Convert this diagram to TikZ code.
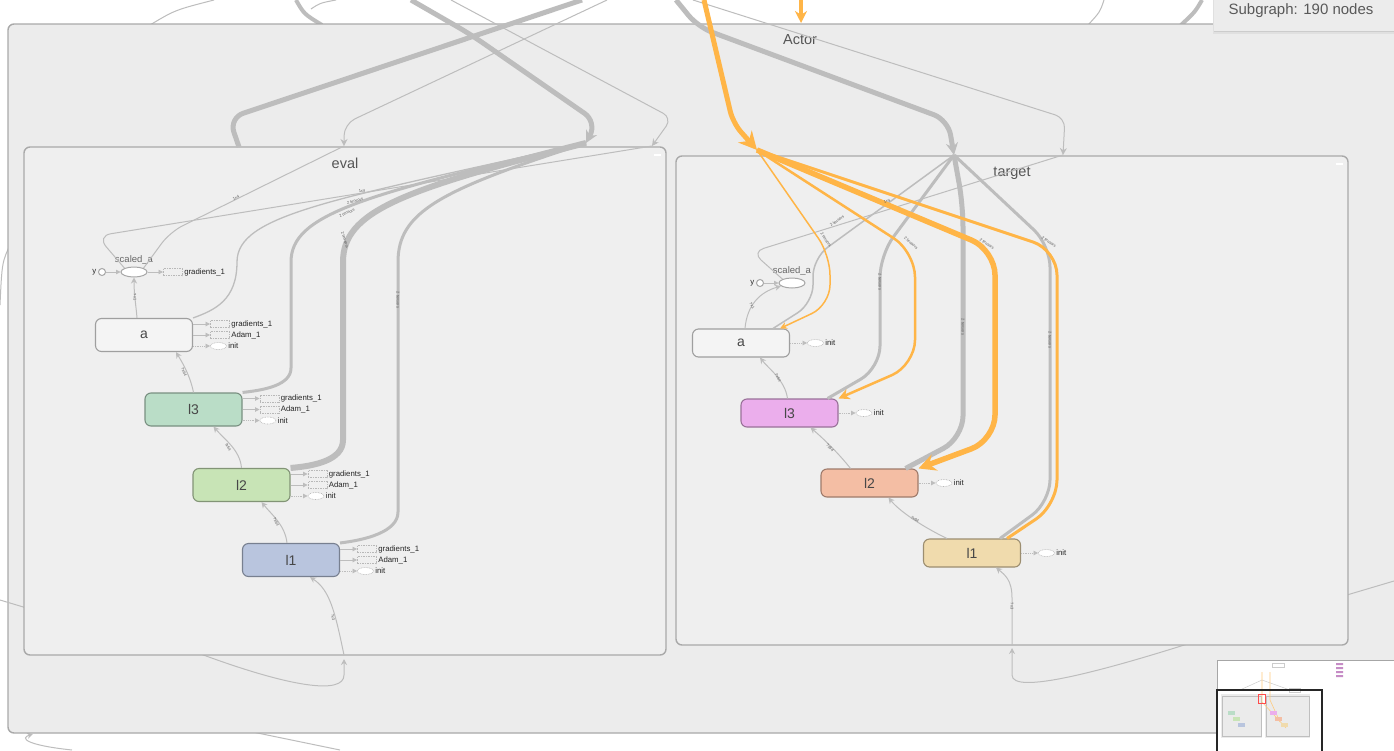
\documentclass[tikz,border=0pt]{standalone}
\usepackage{fontspec}
\setmainfont{Liberation Sans}
\usetikzlibrary{arrows.meta,positioning,shapes.geometric}
\definecolor{actfill}{HTML}{ECECEC}
\definecolor{subfill}{HTML}{EFEFEF}
\definecolor{grpline}{HTML}{A9A9A9}
\definecolor{wirec}{HTML}{BDBDBD}
\definecolor{hot}{HTML}{FFB547}
\definecolor{txt}{HTML}{555555}
\definecolor{opa}{HTML}{F4F4F4}
\definecolor{el3c}{HTML}{BADDC7}
\definecolor{el2c}{HTML}{C8E4B6}
\definecolor{el1c}{HTML}{B9C5DE}
\definecolor{tl3c}{HTML}{EBAEEC}
\definecolor{tl2c}{HTML}{F4BEA4}
\definecolor{tl1c}{HTML}{F0DBAD}
\begin{document}
\begin{tikzpicture}[x=1pt,y=-1pt,
  grp/.style={draw=grpline,line width=1.4pt,fill=#1,rounded corners=6pt},
  ttl/.style={font=\fontsize{14.5}{15}\selectfont,text=txt},
  op/.style={draw=#1!65!black,fill=#1,line width=1.1pt,rounded corners=6pt,
    minimum width=97pt,minimum height=33pt,inner sep=0pt,
    font=\fontsize{14}{14}\selectfont,text=black!72},
  tgt/.style={op=#1,minimum height=28pt},
  sc/.style={ellipse,draw=black!35,fill=white,line width=1pt,minimum width=26pt,minimum height=10pt,inner sep=0pt},
  inp/.style={circle,draw=black!35,fill=white,line width=1pt,minimum size=7pt,inner sep=0pt},
  sclbl/.style={font=\fontsize{9.5}{10}\selectfont,text=black!60,inner sep=1pt},
  gbox/.style={draw=black!28,dash pattern=on 1.5pt off 1pt,line width=.6pt,
    minimum width=19pt,minimum height=7pt,inner sep=0pt,anchor=west},
  iell/.style={ellipse,draw=black!28,dash pattern=on .8pt off .8pt,line width=.6pt,
    fill=white,minimum width=16pt,minimum height=7pt,inner sep=0pt,anchor=west},
  olbl/.style={font=\fontsize{7.8}{8}\selectfont,text=black!85,inner sep=1.5pt},
  elbl/.style={font=\fontsize{4}{4}\selectfont,text=black!65,inner sep=.3pt},
  wire/.style={draw=wirec,line width=#1},
  wire/.default=1pt,
  hotw/.style={draw=hot,line width=#1},
  hotw/.default=1.5pt,
  arr/.style={-{Stealth[length=#1,width=#1]}},
  sarr/.style={-{Triangle[length=4.5pt,width=4.5pt]}},
]
\useasboundingbox (0,0) rectangle (1394,750);
\clip (0,0) rectangle (1394,750);
\fill[white] (0,0) rectangle (1394,750);

% edges outside the Actor box
\coordinate (o1a) at (150,25); \coordinate (o1b) at (214,0);
\coordinate (o2a) at (296,0); \coordinate (o2b) at (322,25);
\coordinate (o3a) at (311,9); \coordinate (o3b) at (336,0);
\coordinate (o4a) at (1088,25); \coordinate (o4b) at (1104,0);
\coordinate (o5a) at (1181,25); \coordinate (o5b) at (1202,0);
\coordinate (o6a) at (243,730); \coordinate (o6b) at (340,750);
\coordinate (o7a) at (72,750); \coordinate (o7b) at (33,734);
\coordinate (o8a) at (11,243); \coordinate (o8b) at (0,305);
\draw[wire] (o1a) .. controls (175,10) .. (o1b);
\draw[wire=4pt] (o2a) .. controls (304,14) .. (o2b);
\draw[wire] (o3a) .. controls (320,3) .. (o3b);
\draw[wire] (o4a) .. controls (1100,12) .. (o4b);
\draw[wire=4pt] (o5a) .. controls (1195,12) .. (o5b);
\draw[wire] (o6a) -- (o6b);
\draw[wire,arr=6pt] (o7a) .. controls (25,745) and (20,738) .. (o7b);
\draw[wire] (o8a) .. controls (2,262) .. (o8b);

% Actor
\draw[grp=actfill] (8,24) rectangle (1420,733);
\node[ttl] (actor) at (800,40) {Actor};

% edges that start under the inner boxes
\coordinate (eb0) at (190,650); \coordinate (ebIn) at (344,659);
\draw[wire,arr=6pt] (eb0) .. controls (290,688) and (344,695) .. (344,675) -- (ebIn);
\coordinate (tb0) at (1200,640); \coordinate (tbIn) at (1012,648);
\draw[wire,arr=6pt] (tb0) .. controls (1100,672) and (1012,695) .. (1012,675) -- (tbIn);
\coordinate (r1a) at (1330,600); \coordinate (r1b) at (1394,581);
\draw[wire] (r1a) -- (r1b);
\coordinate (l2a) at (0,600); \coordinate (l2b) at (40,612);
\draw[wire] (l2a) -- (l2b);

% eval and target
\draw[grp=subfill] (24,147) rectangle (666,655);
\draw[grp=subfill] (676,156) rectangle (1348,645);
\node[ttl] (evalT) at (345,163) {eval};
\node[ttl] (tgtT) at (1012,173) {target};
\draw[white,line width=1.2pt] (654,155) -- (661,155);
\draw[white,line width=1.2pt] (1336,164) -- (1343,164);

% nodes, eval
\node[op=opa] (ea) at (144,335) {a};
\node[op=el3c] (el3) at (193.5,409.5) {l3};
\node[op=el2c] (el2) at (241.5,485) {l2};
\node[op=el1c] (el1) at (291,560) {l1};
\node[sc] (esc) at (134,272) {};
\node[sclbl,above=1pt of esc] (escL) {scaled\_a};
\node[inp,label={[olbl]left:y}] (ey) at (102,272) {};
\node[gbox,label={[olbl]right:gradients\_1}] (escG) at (163,272) {};
% nodes, target
\node[tgt=opa] (ta) at (741,343) {a};
\node[tgt=tl3c] (tl3) at (789.5,413) {l3};
\node[tgt=tl2c] (tl2) at (869.5,483) {l2};
\node[tgt=tl1c] (tl1) at (972,553) {l1};
\node[sc] (tsc) at (792,283) {};
\node[sclbl,above=1pt of tsc] (tscL) {scaled\_a};
\node[inp,label={[olbl]left:y}] (ty) at (760,283) {};

% Actor level edges
\coordinate (tA0) at (582,0); \coordinate (eOut1) at (239,147);
\coordinate (tB0) at (411,0); \coordinate (eIn2) at (586,143);
\coordinate (tF0) at (607,0); \coordinate (eIn3) at (344,146);
\coordinate (tE0) at (451,0); \coordinate (eIn4) at (652,146);
\coordinate (tC0) at (676,0); \coordinate (tIn1) at (954,155);
\coordinate (tD0) at (693,0); \coordinate (tIn2) at (1063,155);
\coordinate (tO0) at (704,0); \coordinate (tIn3) at (757,150);
\coordinate (tO1) at (801,0); \coordinate (aTop) at (801,23);
\draw[wire=5pt,rounded corners=15pt] (tA0) -- (229,118) -- (eOut1);
\draw[wire=5pt,arr=12pt,rounded corners=15pt] (tB0) -- (470,34) -- (597,122) -- (eIn2);
\draw[wire,arr=7pt,rounded corners=12pt] (tF0) -- (344,124) -- (eIn3);
\draw[wire,arr=7pt,rounded corners=10pt] (tE0) -- (672,118) -- (eIn4);
\draw[wire=5pt,arr=12pt,rounded corners=15pt] (tC0) -- (698,27) -- (948,120) -- (tIn1);
\draw[wire,arr=7pt,rounded corners=10pt] (tD0) -- (1065,118) -- (tIn2);
\draw[hotw=5pt,arr=18pt,rounded corners=12pt] (tO0) -- (733,123) -- (tIn3);
\draw[hotw=4pt,arr=12pt] (tO1) -- (aTop);

% eval inner edges
\draw[wire,rounded corners=14pt] (eIn4) -- (97,236) -- (esc.north west);
\draw[wire,rounded corners=14pt] (eIn3) -- (170,232) -- (esc.north east);
\draw[wire=1.3pt] (eIn2) .. controls (330,200) and (237,215) .. (237,262) .. controls (237,300) and (215,310) .. (ea.north east);
\draw[wire=3pt] (eIn2) .. controls (360,195) and (291,215) .. (291,262) -- (291,368) .. controls (291,385) and (265,390) .. (el3.north east);
\draw[wire=6pt] (eIn2) .. controls (400,190) and (343,212) .. (343,262) -- (343,440) .. controls (343,460) and (315,466) .. (el2.north east);
\draw[wire=3pt] (eIn2) .. controls (440,190) and (398,212) .. (398,262) -- (398,512) .. controls (398,532) and (365,540) .. (el1.north east);
\coordinate (ebTop) at (344,655);
\draw[wire,arr=6pt] (ebTop) .. controls (335,612) and (330,590) .. ([xshift=19pt]el1.south);
\draw[wire,arr=6pt] ([xshift=-7pt]ea.north) .. controls (136,305) and (134,295) .. (esc);
\draw[wire,arr=6pt] (el3.north) .. controls (190,375) and (182,362) .. ([xshift=32pt]ea.south);
\draw[wire,arr=6pt] (el2.north) .. controls (240,450) and (225,440) .. ([xshift=20pt]el3.south);
\draw[wire,arr=6pt] ([xshift=-4pt]el1.north) .. controls (285,525) and (272,515) .. ([xshift=20pt]el2.south);
\draw[wire=.8pt,sarr] (ey) -- (esc);
\draw[wire=.8pt,sarr] (esc) -- (escG);
\foreach \n in {ea,el3,el2,el1}{
  \node[gbox,label={[olbl]right:gradients\_1}] (\n-g) at ([xshift=17pt,yshift=11pt]\n.east) {};
  \node[gbox,label={[olbl]right:Adam\_1}] (\n-m) at ([xshift=17pt]\n.east) {};
  \node[iell,label={[olbl]right:init}] (\n-i) at ([xshift=17pt,yshift=-11pt]\n.east) {};
  \draw[wire=.8pt,sarr] (\n.east |- \n-g) -- (\n-g);
  \draw[wire=.8pt,sarr] (\n.east |- \n-m) -- (\n-m);
  \draw[wire=.8pt,sarr,densely dotted] (\n.east |- \n-i) -- (\n-i);
}

% target inner edges
\draw[wire=5pt,rounded corners=22pt] (tIn1) -- (963,205) -- (963,438) -- ([xshift=-13pt]tl2.north east);
\draw[wire=3pt,rounded corners=22pt] (tIn1) -- (880,255) -- (880,368) -- ([xshift=-11pt]tl3.north east);
\draw[wire=3pt,rounded corners=22pt] (tIn1) -- (1050,245) -- (1050,502) -- ([xshift=-21pt]tl1.north east);
\draw[wire=1.5pt,rounded corners=18pt] (tIn1) -- (813,258) -- (813,303) -- ([xshift=-17pt]ta.north east);
\draw[wire,rounded corners=12pt] (tIn2) -- (752,252) -- (tsc.north west);
\draw[hotw=1.5pt,arr=7pt,rounded corners=20pt] (tIn3) -- (830,255) -- (830,305) -- ([xshift=-10pt]ta.north east);
\draw[hotw=2.5pt,arr=11pt,rounded corners=25pt] (tIn3) -- (915,252) -- (915,365) -- (tl3.north east);
\draw[hotw=5.5pt,arr=17pt,rounded corners=25pt] (tIn3) -- (995,250) -- (995,440) -- (tl2.north east);
\draw[hotw=3pt,rounded corners=25pt] (tIn3) -- (1057,250) -- (1057,505) -- ([xshift=-14pt]tl1.north east);
\coordinate (tbTop) at (1012,645);
\draw[wire,arr=6pt] (tbTop) -- (1012,598) .. controls (1012,580) and (1005,575) .. ([xshift=24pt]tl1.south);
\draw[wire,arr=6pt] ([xshift=4pt]ta.north) .. controls (747,305) and (760,292) .. (tsc);
\draw[wire,arr=6pt] ([xshift=-2pt]tl3.north) .. controls (785,380) and (768,368) .. ([xshift=19pt]ta.south);
\draw[wire,arr=6pt] ([xshift=-19pt]tl2.north) .. controls (840,455) and (825,440) .. ([xshift=21pt]tl3.south);
\draw[wire,arr=6pt] ([xshift=-25pt]tl1.north) .. controls (925,528) and (900,512) .. ([xshift=19pt]tl2.south);
\draw[wire=.8pt,sarr] (ty) -- (tsc);
\foreach \n in {ta,tl3,tl2,tl1}{
  \node[iell,label={[olbl]right:init}] (\n-i) at ([xshift=17pt]\n.east) {};
  \draw[wire=.8pt,sarr,densely dotted] (\n.east) -- (\n-i);
}

% edge labels
\node[elbl,rotate=9] (lb1) at (362,191) {1x4};
\node[elbl,rotate=26] (lb2) at (236,198) {1x4};
\node[elbl,rotate=14] (lb3) at (355,201) {2 tensors};
\node[elbl,rotate=25] (lb4) at (347,213) {2 tensors};
\node[elbl,rotate=-72] (lb5) at (345,240) {2 tensors};
\node[elbl,rotate=-90] (lb6) at (398,300) {2 tensors};
\node[elbl,rotate=-88] (lb7) at (135,297) {?x1};
\node[elbl,rotate=-65] (lb8) at (184,372) {?x64};
\node[elbl,rotate=-58] (lb9) at (228,447) {?x64};
\node[elbl,rotate=-62] (lb10) at (276,522) {?x64};
\node[elbl,rotate=-80] (lb11) at (333,617) {?x3};
\node[elbl,rotate=-56] (lb12) at (826,240) {2 tensors};
\node[elbl,rotate=-40] (lb13) at (911,243) {2 tensors};
\node[elbl,rotate=-35] (lb14) at (987,244) {2 tensors};
\node[elbl,rotate=-35] (lb15) at (1049,242) {2 tensors};
\node[elbl,rotate=-90] (lb16) at (963,327) {2 tensors};
\node[elbl,rotate=-90] (lb17) at (880,282) {2 tensors};
\node[elbl,rotate=-90] (lb18) at (1050,340) {2 tensors};
\node[elbl,rotate=36] (lb19) at (837,221) {2 tensors};
\node[elbl,rotate=18] (lb20) at (887,201) {1x4};
\node[elbl,rotate=-60] (lb21) at (752,306) {?x1};
\node[elbl,rotate=-60] (lb22) at (778,378) {?x64};
\node[elbl,rotate=-45] (lb23) at (830,448) {?x64};
\node[elbl,rotate=-28] (lb24) at (915,519) {?x64};
\node[elbl,rotate=-90] (lb25) at (1012,606) {?x3};

% subgraph info
\fill[black!12] (1213,0) rectangle (1400,33.5);
\fill[black!20] (1214,0) rectangle (1400,32);
\fill[actfill] (1214,-2) rectangle (1400,31);
\node[font=\fontsize{15}{16}\selectfont,text=black!65] (sub) at (1301,11) {Subgraph: 190 nodes};

% minimap
\draw[black!35,fill=white] (1217,660) rectangle (1400,752);
\fill[black!8] (1221,694) rectangle (1262,738);
\fill[black!8] (1265,694) rectangle (1310,738);
\draw[black!25,line width=.3pt] (1222,696) rectangle (1261,736) (1266,696) rectangle (1309,736);
\draw[black!20,line width=.4pt] (1272,663) rectangle (1284,667) (1289,688) rectangle (1300,692);
\draw[black!20,line width=.5pt] (1240,690) -- (1262,680) -- (1290,690);
\draw[hot!70,line width=.6pt] (1262,672) -- (1262,702) -- (1286,728);
\draw[hot!70,line width=.6pt] (1270,672) -- (1270,700) -- (1280,722);
\draw[red!70,line width=.6pt] (1258,694) rectangle (1265,703);
\fill[el3c] (1228,711) rectangle (1235,715);
\fill[el2c] (1233,717) rectangle (1240,721);
\fill[el1c] (1238,723) rectangle (1245,727);
\fill[tl3c] (1270,711) rectangle (1277,715);
\fill[tl2c] (1275,717) rectangle (1282,721);
\fill[tl1c] (1281,723) rectangle (1288,727);
\fill[violet!45] (1336,663) rectangle (1343,665) (1336,667) rectangle (1343,669) (1336,671) rectangle (1343,673) (1336,675) rectangle (1343,677);
\draw[black!85,line width=1.5pt] (1217,690) rectangle (1322,752);
\end{tikzpicture}
\end{document}
